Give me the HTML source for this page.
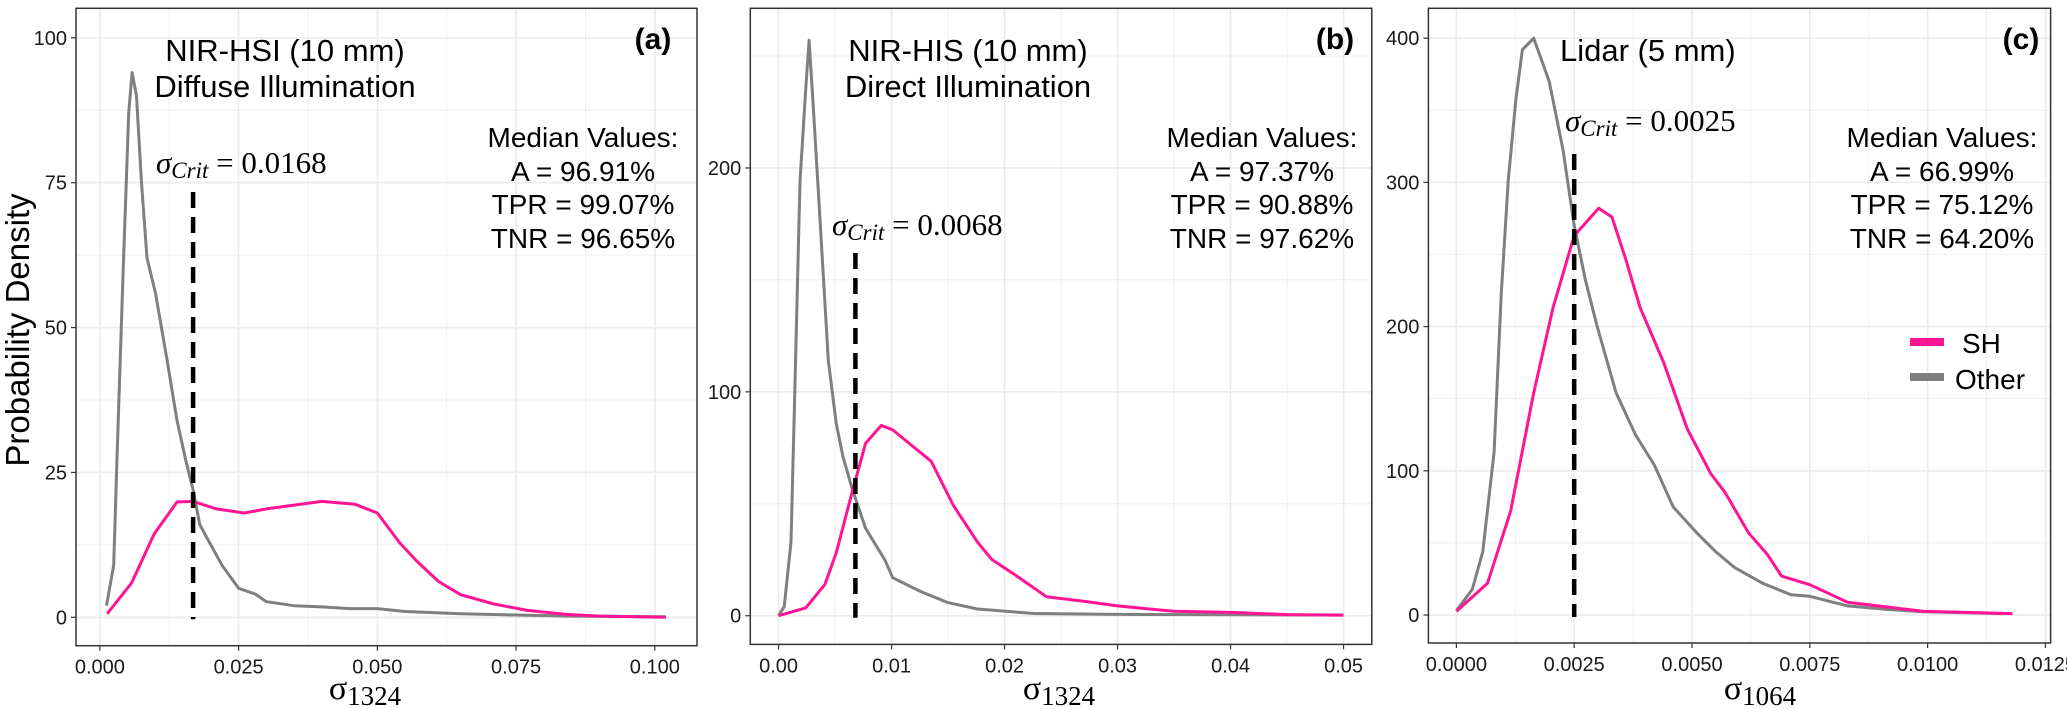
<!DOCTYPE html>
<html><head><meta charset="utf-8"><style>
html,body{margin:0;padding:0;background:#fff;}
svg{display:block;font-family:"Liberation Sans",sans-serif;}
</style></head><body>
<svg id="chart" width="2067" height="709" viewBox="0 0 2067 709" xmlns="http://www.w3.org/2000/svg">
<g id="root">
<text x="0" y="0" transform="translate(29,330) rotate(-90)" text-anchor="middle" font-size="33" fill="#000">Probability Density</text>
</g>
</svg>
<script>
// Panel (a) data
const aOtherX=[0.0012,0.0025,0.0031,0.0042,0.0052,0.0058,0.0066,0.0075,0.0085,0.010,0.012,0.0139,0.0155,0.0168,0.018,0.0197,0.022,0.025,0.028,0.030,0.035,0.040,0.045,0.050,0.055,0.065,0.075,0.085,0.102];
const aOtherY=[2,9,28,60,87,94,90,75,62,56,45,34,27,22,16,13,9,5,4,2.7,2,1.8,1.5,1.5,1,0.6,0.4,0.2,0.1];
const aShX=[0.0013,0.0057,0.0098,0.0139,0.0168,0.021,0.026,0.030,0.040,0.046,0.050,0.054,0.057,0.061,0.065,0.071,0.077,0.084,0.090,0.102];
const aShY=[0.6,5.9,14.4,19.9,20,18.7,18,18.7,20,19.5,18,12.9,9.8,6.2,3.9,2.3,1.2,0.5,0.2,0];
// Panel (b) data
const bOtherX=[0,0.0005,0.0011,0.0014,0.0019,0.0024,0.0027,0.0031,0.0037,0.0044,0.0051,0.0057,0.0065,0.0077,0.0094,0.0101,0.0125,0.0149,0.0176,0.0226,0.03,0.04,0.05];
const bOtherY=[0,4,33,93,194,235,257,225,174,114,86,71,57,39,25,17,11,6,3,1,0.6,0.4,0.3];
const bShX=[0,0.0024,0.0041,0.0051,0.0065,0.0077,0.0091,0.0101,0.0118,0.0135,0.0155,0.0176,0.0189,0.021,0.0237,0.027,0.030,0.035,0.040,0.045,0.050];
const bShY=[0,3.5,14,28,55,77,85,83,76,69,49,33,25,18,8.5,6.5,4.4,2,1.5,0.5,0.3];
// Panel (c) data
const cOtherX=[0,0.00034,0.00056,0.0008,0.00095,0.0011,0.00126,0.0014,0.00164,0.00197,0.00226,0.0025,0.00274,0.00298,0.00339,0.0038,0.0042,0.0046,0.0051,0.0055,0.0059,0.0065,0.0071,0.0075,0.0083,0.0091,0.0099,0.0116];
const cOtherY=[3,18,44,113,222,301,357,392,400,370,323,270,232,201,154,125,104,75,57,44,33,22,14,13,6.3,4,2.2,1];
const cShX=[0,0.00066,0.00115,0.00164,0.00205,0.0025,0.00302,0.0033,0.00359,0.0039,0.0044,0.0049,0.0054,0.0057,0.0062,0.0066,0.0069,0.0075,0.0083,0.0091,0.0099,0.0118];
const cShY=[2.5,22,72,154,213,263,282,276,247,213,175,129,98,85,57,42,27,21,8.9,5.7,2.6,1];
// ticks
const aXTicks=[0,0.025,0.05,0.075,0.1], aXLabels=["0.000","0.025","0.050","0.075","0.100"];
const aYTicks=[0,25,50,75,100], aYLabels=["0","25","50","75","100"];
const bXTicks=[0,0.01,0.02,0.03,0.04,0.05], bXLabels=["0.00","0.01","0.02","0.03","0.04","0.05"];
const bYTicks=[0,100,200], bYLabels=["0","100","200"];
const cXTicks=[0,0.0025,0.005,0.0075,0.01,0.0125], cXLabels=["0.0000","0.0025","0.0050","0.0075","0.0100","0.0125"];
const cYTicks=[0,100,200,300,400], cYLabels=["0","100","200","300","400"];
const critValues=[0.0168,0.0068,0.0025];

const NS="http://www.w3.org/2000/svg";
const root=document.getElementById('root');
function mk(tag,attrs,parent){const e=document.createElementNS(NS,tag);for(const k in attrs)e.setAttribute(k,attrs[k]);(parent||root).appendChild(e);return e;}

function panel(cfg){
  const g=mk('g',{});
  
  
  const {x0,x1,y0,y1,xd,yd}=cfg;
  const sx=v=>x0+(v-xd[0])/(xd[1]-xd[0])*(x1-x0);
  const sy=v=>y1-(v-yd[0])/(yd[1]-yd[0])*(y1-y0);
  const xt=cfg.xt, yt=cfg.yt;
  const xs=xt[1]-xt[0], ys=yt[1]-yt[0];
  for(let v=xt[0]-xs/2; v<=xd[1]; v+=xs/2){ if(v<xd[0])continue;
    const major=Math.abs(Math.round((v-xt[0])/xs)-(v-xt[0])/xs)<0.01;
    const l=mk('line',{x1:sx(v),x2:sx(v),y1:y0,y2:y1,stroke:'#ebebeb','stroke-width':major?1.6:0.8},g);
    
    
  }
  for(let v=yt[0]-ys/2; v<=yd[1]; v+=ys/2){ if(v<yd[0])continue;
    const major=Math.abs(Math.round((v-yt[0])/ys)-(v-yt[0])/ys)<0.01;
    const l=mk('line',{x1:x0,x2:x1,y1:sy(v),y2:sy(v),stroke:'#ebebeb','stroke-width':major?1.6:0.8},g);
    
    
  }
  function curve(X,Y,color,name){
    const d=X.map((v,i)=>(i?'L':'M')+sx(v).toFixed(1)+','+sy(Y[i]).toFixed(1)).join('');
    const p=mk('path',{d:d,fill:'none',stroke:color,'stroke-width':3,'stroke-linejoin':'round'},g);
    
    
  }
  curve(cfg.oX,cfg.oY,'#7f7f7f','other-density-line');
  curve(cfg.sX,cfg.sY,'#ff1493','sh-density-line');
  const cl=mk('line',{x1:sx(cfg.crit),x2:sx(cfg.crit),y1:cfg.critTop,y2:sy(0)+2,stroke:'#000','stroke-width':4.5,'stroke-dasharray':'16,9'},g);
  
  
  const b=mk('rect',{x:x0,y:y0,width:x1-x0,height:y1-y0,fill:'none',stroke:'#333','stroke-width':1.5},g);
  
  
  xt.forEach((v,i)=>{
    const t=mk('line',{x1:sx(v),x2:sx(v),y1:y1,y2:y1+5,stroke:'#333','stroke-width':1.2},g);
    
    
    const tx=mk('text',{x:sx(v),y:y1+28,'text-anchor':'middle','font-size':20,fill:'#1a1a1a'},g);
    tx.textContent=cfg.xl[i];
    
    
  });
  yt.forEach((v,i)=>{
    const t=mk('line',{x1:x0-5,x2:x0,y1:sy(v),y2:sy(v),stroke:'#333','stroke-width':1.2},g);
    
    
    const tx=mk('text',{x:x0-9,y:sy(v)+7,'text-anchor':'end','font-size':20,fill:'#1a1a1a'},g);
    tx.textContent=cfg.yl[i];
    
    
  });
  return g;
}
panel({id:'a',x0:76,x1:697,y0:8.3,y1:645.7,xd:[-0.0043,0.1076],yd:[-4.9,105.1],xt:aXTicks,xl:aXLabels,yt:aYTicks,yl:aYLabels,oX:aOtherX,oY:aOtherY,sX:aShX,sY:aShY,crit:critValues[0],critTop:192});
panel({id:'b',x0:750.3,x1:1371.8,y0:8.3,y1:644.4,xd:[-0.0025,0.0525],yd:[-12.8,271.3],xt:bXTicks,xl:bXLabels,yt:bYTicks,yl:bYLabels,oX:bOtherX,oY:bOtherY,sX:bShX,sY:bShY,crit:critValues[1],critTop:253});
panel({id:'c',x0:1428.4,x1:2050.6,y0:8.3,y1:643,xd:[-0.000594,0.01261],yd:[-19.4,420.7],xt:cXTicks,xl:cXLabels,yt:cYTicks,yl:cYLabels,oX:cOtherX,oY:cOtherY,sX:cShX,sY:cShY,crit:critValues[2],critTop:154});

const ann=`
<g>
<text x="285" y="61" text-anchor="middle" font-size="31">NIR-HSI (10 mm)</text>
<text x="285" y="97" text-anchor="middle" font-size="31">Diffuse Illumination</text>
<text x="653" y="49" text-anchor="middle" font-size="30" font-weight="bold">(a)</text>
<g font-size="28" text-anchor="middle">
<text x="583" y="147">Median Values:</text><text x="583" y="181">A = 96.91%</text><text x="583" y="214">TPR = 99.07%</text><text x="583" y="248">TNR = 96.65%</text></g>
<text x="156" y="173" font-family="Liberation Serif,serif" font-size="31"><tspan font-style="italic">σ</tspan><tspan font-style="italic" font-size="23" dy="5">Crit</tspan><tspan dy="-5"> = 0.0168</tspan></text>
<text x="365" y="699" text-anchor="middle" font-family="Liberation Serif,serif" font-size="34">σ<tspan font-size="27" dy="6">1324</tspan></text>
</g>
<g>
<text x="968" y="61" text-anchor="middle" font-size="31">NIR-HIS (10 mm)</text>
<text x="968" y="97" text-anchor="middle" font-size="31">Direct Illumination</text>
<text x="1335" y="49" text-anchor="middle" font-size="30" font-weight="bold">(b)</text>
<g font-size="28" text-anchor="middle">
<text x="1262" y="147">Median Values:</text><text x="1262" y="181">A = 97.37%</text><text x="1262" y="214">TPR = 90.88%</text><text x="1262" y="248">TNR = 97.62%</text></g>
<text x="832" y="235" font-family="Liberation Serif,serif" font-size="31"><tspan font-style="italic">σ</tspan><tspan font-style="italic" font-size="23" dy="5">Crit</tspan><tspan dy="-5"> = 0.0068</tspan></text>
<text x="1059" y="699" text-anchor="middle" font-family="Liberation Serif,serif" font-size="34">σ<tspan font-size="27" dy="6">1324</tspan></text>
</g>
<g>
<text x="1560" y="61" font-size="31">Lidar (5 mm)</text>
<text x="2021" y="49" text-anchor="middle" font-size="30" font-weight="bold">(c)</text>
<g font-size="28" text-anchor="middle">
<text x="1942" y="147">Median Values:</text><text x="1942" y="181">A = 66.99%</text><text x="1942" y="214">TPR = 75.12%</text><text x="1942" y="248">TNR = 64.20%</text></g>
<text x="1565" y="131" font-family="Liberation Serif,serif" font-size="31"><tspan font-style="italic">σ</tspan><tspan font-style="italic" font-size="23" dy="5">Crit</tspan><tspan dy="-5"> = 0.0025</tspan></text>
<text x="1760" y="699" text-anchor="middle" font-family="Liberation Serif,serif" font-size="34">σ<tspan font-size="27" dy="6">1064</tspan></text>
<g>
<rect x="1910" y="338" width="34" height="8" fill="#ff1493"/>
<text x="1962" y="353" font-size="28">SH</text>
<rect x="1910" y="373" width="34" height="8" fill="#7f7f7f"/>
<text x="1955" y="389" font-size="28">Other</text>
</g>
</g>`;
root.insertAdjacentHTML('beforeend',ann);
</script>
</body></html>
